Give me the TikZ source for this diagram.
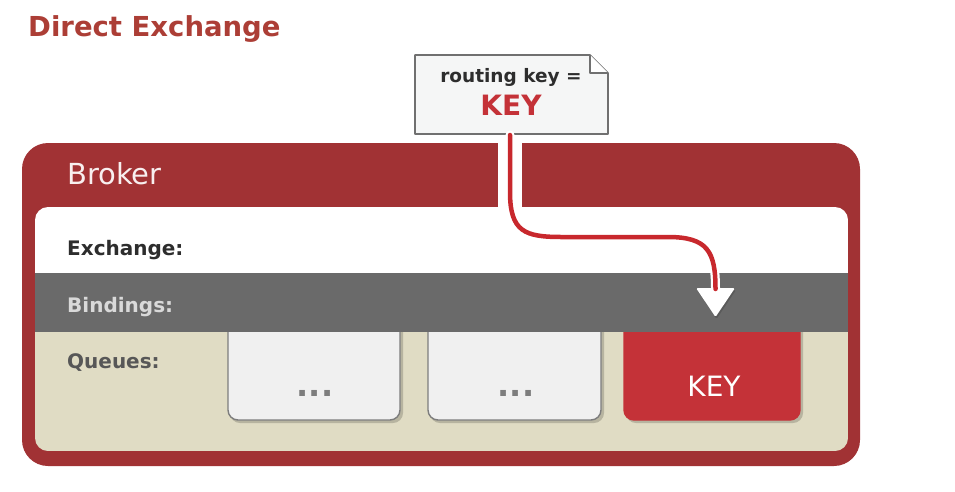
\documentclass[tikz,border=0pt]{standalone}
\usepackage{fontspec}
\setmainfont{DejaVu Sans}
\definecolor{titlered}{RGB}{172,62,54}
\definecolor{brokerred}{RGB}{161,50,52}
\definecolor{bandgray}{RGB}{106,106,106}
\definecolor{beige}{RGB}{224,220,196}
\definecolor{keyred}{RGB}{196,50,56}
\definecolor{linered}{RGB}{200,40,45}
\definecolor{notefill}{RGB}{245,246,246}
\definecolor{qfill}{RGB}{240,240,240}
\definecolor{qborder}{RGB}{125,125,125}
\definecolor{darktext}{RGB}{45,45,45}
\tikzset{
  lbl/.style={anchor=base west, inner sep=0pt, font=\fontsize{20}{24}\selectfont\bfseries},
  qbox/.style={draw=qborder, line width=1.4pt, fill=qfill, rounded corners=10pt, minimum width=172pt, minimum height=102pt, inner sep=0pt},
  dots/.style={anchor=base, inner sep=0pt, text=qborder, font=\fontsize{32}{36}\selectfont\bfseries},
  route/.style={line cap=round},
}
\begin{document}
\begin{tikzpicture}[x=1pt,y=-1pt]
\useasboundingbox (0,0) rectangle (955,491);
% title
\node[anchor=base west, inner sep=0pt, text=titlered, font=\fontsize{27.5}{30}\selectfont\bfseries] (title) at (28,36) {Direct Exchange};
% broker
\fill[brokerred, rounded corners=26pt] (22,143) rectangle (860,466);
\begin{scope}
  \clip[rounded corners=13pt] (35,207) rectangle (848,451);
  \fill[white] (35,207) rectangle (848,273);
  \fill[beige] (35,273) rectangle (848,451);
  % shadows
  \foreach \xa/\xb in {228/400,428/601,624/800}{
    \fill[black, opacity=0.18, rounded corners=10pt] (\xa+2,316) rectangle (\xb+3,423);
  }
  \node[qbox] (q1) at (314,369) {};
  \node[qbox, minimum width=173pt] (q2) at (514.5,369) {};
  \node[qbox, draw=keyred, fill=keyred, minimum width=176pt] (q3) at (712,369) {};
  \fill[bandgray] (35,273) rectangle (848,332);
\end{scope}
\fill[white] (498,140) rectangle (522,208);
\node[anchor=base west, inner sep=0pt, text=white!92!brokerred, font=\fontsize{29}{32}\selectfont] (broker) at (67,184) {Broker};
\node[lbl, text=darktext] (exch) at (67,255) {Exchange:};
\node[lbl, text=white!85!black] (bind) at (67,312) {Bindings:};
\node[lbl, text=darktext!80!white] (queues) at (67,368) {Queues:};
\node[dots] (d1) at (315,396) {...};
\node[dots] (d2) at (516,396) {...};
\node[anchor=base, inner sep=0pt, text=white, font=\fontsize{28}{30}\selectfont] (keyq) at (714,396) {KEY};
% binding triangle
\fill[black, opacity=0.15, rounded corners=1.5pt] (697,290) -- (736,290) -- (716.5,319) -- cycle;
\fill[white, rounded corners=1.5pt] (696,288) -- (735,288) -- (715.5,317) -- cycle;
\coordinate (tip) at (715.5,289);
% message note
\draw[qborder!90!black, line width=1.6pt, fill=notefill, line join=round] (415,55) -- (590,55) -- (608,73) -- (608,134) -- (415,134) -- cycle;
\draw[qborder!90!black, line width=1.2pt, fill=white, line join=round] (590,55) -- (590,73) -- (608,73);
\node[anchor=base, inner sep=0pt, text=darktext, font=\fontsize{18.5}{20}\selectfont\bfseries] (rk) at (511,82) {routing key =};
\node[anchor=base, inner sep=0pt, text=keyred, font=\fontsize{28}{30}\selectfont\bfseries] (msgkey) at (511,115) {KEY};
\coordinate (msgbot) at (510,135);
% routing line
\draw[route, white, line width=9pt] (msgbot) -- (510,192) .. controls (510,232) and (525,237) .. (562,237) -- (668,237) .. controls (708,237) and (715.5,252) .. (tip);
\draw[route, linered, line width=4.5pt] (msgbot) -- (510,192) .. controls (510,232) and (525,237) .. (562,237) -- (668,237) .. controls (708,237) and (715.5,252) .. (tip);
\end{tikzpicture}
\end{document}
